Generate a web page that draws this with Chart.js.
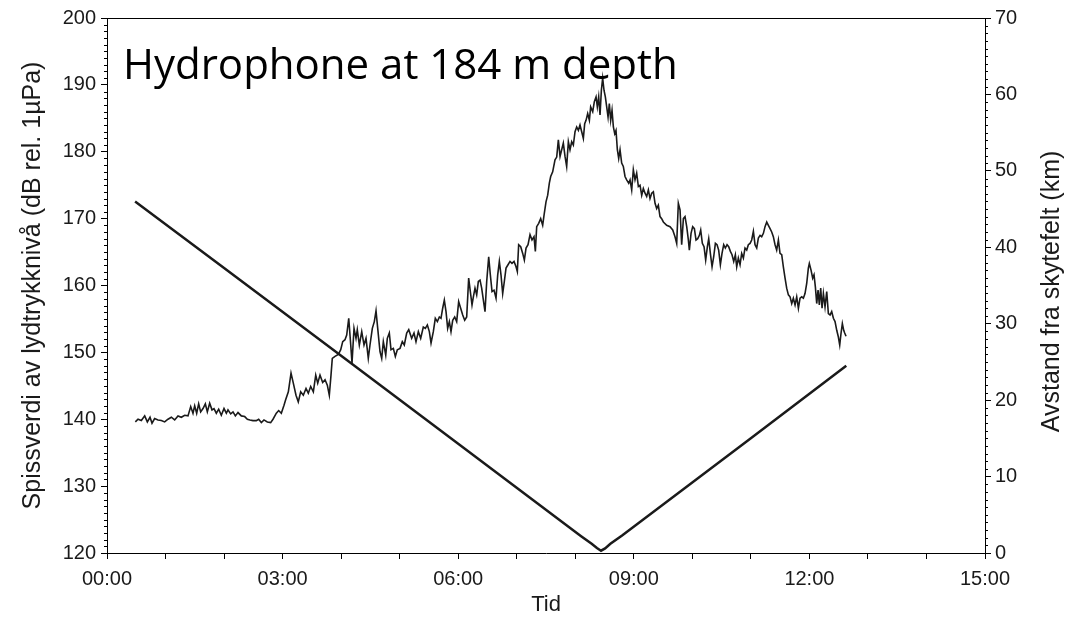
<!DOCTYPE html>
<html>
<head>
<meta charset="utf-8">
<script src="https://cdn.jsdelivr.net/npm/chart.js@4.4.1/dist/chart.umd.min.js"></script>
<style>
  html, body { margin: 0; padding: 0; background: #ffffff; }
  canvas { display: block; }
</style>
</head>
<body>
<canvas id="chart" width="1067" height="619"></canvas>
<script>
// Peak sound pressure level at the hydrophone (time in hours, level in dB re 1 µPa)
const levelTime = [
  0.484, 0.530, 0.587, 0.644, 0.689, 0.735, 0.769, 0.814, 0.871, 0.928,
  0.985, 1.042, 1.099, 1.156, 1.213, 1.270, 1.327, 1.384, 1.430, 1.469,
  1.498, 1.532, 1.566, 1.600, 1.640, 1.680, 1.714, 1.754, 1.794, 1.828,
  1.868, 1.908, 1.953, 1.999, 2.039, 2.067, 2.113, 2.153, 2.193, 2.238,
  2.295, 2.352, 2.398, 2.443, 2.494, 2.551, 2.591, 2.637, 2.682, 2.739,
  2.796, 2.836, 2.893, 2.933, 2.978, 3.024, 3.052,
  3.098, 3.144, 3.183, 3.229, 3.268, 3.309, 3.354, 3.400, 3.439, 3.480,
  3.525, 3.566, 3.600, 3.639, 3.685, 3.725, 3.764, 3.798, 3.827, 3.849,
  3.895, 3.952, 3.993, 4.027, 4.066, 4.095, 4.130, 4.164, 4.186, 4.220,
  4.254, 4.276, 4.311, 4.352, 4.391, 4.425, 4.464, 4.493, 4.533, 4.567,
  4.596, 4.625, 4.664, 4.693, 4.721, 4.762, 4.789, 4.823, 4.852, 4.892,
  4.926, 4.960, 5.006, 5.045, 5.079, 5.120, 5.155,
  5.205, 5.245, 5.279, 5.319, 5.359, 5.404, 5.439, 5.473, 5.507, 5.536,
  5.575, 5.609, 5.644, 5.678, 5.706, 5.735, 5.763, 5.792, 5.820, 5.849,
  5.877, 5.906, 5.940, 5.974, 6.008, 6.042, 6.077, 6.111, 6.145, 6.179,
  6.207, 6.236, 6.259, 6.287, 6.316, 6.344, 6.373, 6.401, 6.430, 6.458,
  6.487, 6.521, 6.549, 6.578, 6.612, 6.646, 6.675, 6.703, 6.731, 6.760,
  6.788, 6.817, 6.851, 6.885, 6.919, 6.954, 6.988, 7.010, 7.033, 7.068,
  7.102, 7.130, 7.159, 7.193, 7.227, 7.261, 7.295, 7.318, 7.341, 7.375,
  7.409, 7.443, 7.466, 7.500, 7.529, 7.557, 7.580, 7.614, 7.654, 7.683,
  7.711, 7.740, 7.768, 7.796, 7.825, 7.853, 7.882, 7.910, 7.939, 7.967,
  7.996, 8.024, 8.053, 8.081, 8.110, 8.138, 8.161, 8.184, 8.212, 8.241,
  8.263, 8.298, 8.326, 8.355, 8.377, 8.400, 8.423, 8.446, 8.468, 8.491,
  8.514, 8.537, 8.560, 8.582, 8.605, 8.628, 8.651, 8.674, 8.696, 8.719,
  8.742, 8.765, 8.793, 8.821, 8.850, 8.878, 8.913, 8.936, 8.964, 8.992,
  9.021, 9.049, 9.078, 9.106, 9.135, 9.163, 9.192, 9.220, 9.249, 9.277,
  9.306, 9.334, 9.363, 9.391, 9.419, 9.448, 9.476, 9.505, 9.562,
  9.619, 9.665, 9.704, 9.733, 9.761, 9.790, 9.818, 9.847, 9.875, 9.904,
  9.932, 9.949, 9.978, 10.006, 10.035, 10.063, 10.092, 10.120, 10.143, 10.171,
  10.200, 10.228, 10.257, 10.280, 10.308, 10.337, 10.365, 10.394, 10.422, 10.450,
  10.479, 10.507, 10.536, 10.564, 10.593, 10.621, 10.650, 10.678, 10.707, 10.735,
  10.758, 10.786, 10.815, 10.843, 10.872, 10.900, 10.929, 10.957, 10.986, 11.014,
  11.043, 11.071, 11.100, 11.128, 11.157, 11.185, 11.214, 11.242, 11.271, 11.299,
  11.328, 11.356, 11.384, 11.413, 11.441, 11.470, 11.498, 11.527, 11.555, 11.584,
  11.612, 11.641, 11.669, 11.698, 11.726, 11.755, 11.783, 11.812, 11.840, 11.869,
  11.897, 11.925, 11.954, 11.982, 11.999, 12.028, 12.056, 12.079, 12.102, 12.125,
  12.148, 12.170, 12.193, 12.216, 12.239, 12.267, 12.296, 12.324, 12.353, 12.381,
  12.410, 12.438, 12.467, 12.495, 12.518, 12.541, 12.563, 12.586, 12.603, 12.626
];
const levelDb = [
  139.6, 140.0, 139.8, 140.5, 139.6, 140.3, 139.4, 140.1, 139.9, 139.8,
  139.6, 140.0, 140.3, 139.9, 140.5, 140.3, 140.6, 140.5, 141.9, 140.9,
  142.0, 140.9, 142.3, 141.1, 141.6, 142.3, 141.1, 142.4, 141.4, 141.6,
  140.9, 141.5, 140.6, 141.6, 140.9, 141.4, 140.8, 141.1, 140.5, 141.0,
  140.5, 140.4, 140.0, 139.9, 139.8, 139.8, 140.0, 139.5, 139.9, 139.6,
  139.5, 140.0, 140.9, 141.3, 140.9, 142.1, 142.9,
  144.1, 146.9, 145.4, 143.6, 142.6, 144.1, 143.6, 144.6, 143.9, 144.9,
  144.1, 146.6, 145.4, 146.6, 145.5, 145.9, 145.1, 143.6, 146.6, 149.1,
  149.4, 149.7, 150.4, 151.6, 151.9, 152.6, 155.1, 151.1, 148.4, 153.6,
  152.1, 153.4, 151.1, 153.1, 151.1, 152.1, 149.1, 151.1, 153.6, 154.6,
  156.2, 153.6, 150.1, 149.1, 151.6, 149.6, 152.1, 152.9, 150.4, 150.6,
  149.4, 150.4, 150.6, 151.6, 151.1, 152.9, 153.4,
  152.1, 152.9, 151.6, 153.1, 152.1, 153.8, 153.6, 154.1, 153.1, 151.4,
  153.1, 155.1, 154.6, 155.3, 155.1, 156.6, 157.8, 156.1, 153.6, 154.6,
  153.1, 154.8, 155.3, 154.6, 157.6, 156.6, 155.6, 154.8, 155.3, 161.1,
  159.1, 157.1, 158.3, 159.6, 158.6, 160.6, 160.8, 159.6, 157.8, 156.1,
  160.6, 164.3, 161.6, 159.1, 159.3, 158.1, 161.6, 163.6, 161.6, 158.8,
  160.6, 162.6, 163.1, 163.6, 163.3, 163.6, 162.8, 162.1, 166.1, 165.8,
  164.8, 163.8, 165.6, 166.1, 167.6, 166.8, 167.3, 165.1, 168.8, 169.3,
  170.0, 169.0, 170.5, 172.5, 173.5, 175.3, 176.3, 177.0, 178.8, 179.2,
  181.8, 179.3, 180.3, 181.3, 179.3, 177.8, 181.5, 180.3, 181.5, 181.0,
  183.0, 183.7, 183.2, 184.0, 183.0, 182.0, 184.2, 184.7, 185.7, 184.7,
  186.7, 186.0, 187.5, 188.2, 186.7, 188.2, 185.5, 189.2, 191.0, 189.2,
  188.2, 186.7, 185.2, 187.2, 184.7, 186.2, 183.7, 182.7, 183.2, 180.3,
  179.0, 180.3, 178.3, 177.8, 176.3, 175.8, 175.3, 175.8, 174.3, 177.3,
  175.8, 176.8, 174.8, 175.0, 173.5, 174.5, 173.8, 173.3, 174.3, 173.0,
  173.8, 174.0, 172.3, 171.5, 172.0, 170.3, 170.0, 169.5, 169.0,
  168.8, 168.3, 167.3, 166.3, 172.3, 171.3, 166.1, 170.0, 170.3, 168.8,
  166.8, 165.3, 167.8, 168.8, 168.5, 166.8, 167.0, 167.5, 168.3, 166.3,
  165.8, 163.8, 165.8, 167.0, 164.8, 162.8, 164.3, 166.3, 166.1, 165.3,
  163.1, 164.8, 166.1, 165.6, 166.1, 165.8, 165.1, 164.6, 163.6, 164.6,
  162.8, 164.1, 163.1, 164.8, 164.1, 165.6, 165.3, 166.1, 166.3, 166.8,
  168.1, 166.1, 165.6, 167.1, 167.5, 167.3, 167.8, 168.8, 169.5, 169.0,
  168.5, 168.0, 167.3, 166.1, 165.3, 166.8, 164.8, 164.6, 162.8, 161.1,
  159.6, 158.6, 158.3, 157.3, 158.1, 157.1, 158.3, 156.6, 158.1, 158.3,
  158.1, 158.8, 160.3, 162.6, 163.3, 162.3, 161.1, 161.6, 159.8, 157.3,
  159.3, 157.1, 159.6, 156.6, 158.8, 156.8, 159.1, 155.8, 155.6, 156.1,
  155.1, 154.6, 153.3, 152.3, 151.1, 152.9, 154.3, 153.3, 152.9, 152.4
];

// Distance from the firing range (time in hours, distance in km)
const distTime = [0.48, 2.0, 4.0, 6.0, 8.1, 8.28, 8.37, 8.44, 8.51, 8.6, 8.8, 11.0, 12.63];
const distKm   = [46.0, 37.3, 25.8, 14.3, 2.2, 1.2, 0.65, 0.3, 0.6, 1.2, 2.3, 15.0, 24.5];

// Axis ticks
const timeTickHours  = [0, 3, 6, 9, 12, 15];
const timeTickLabels = ['00:00', '03:00', '06:00', '09:00', '12:00', '15:00'];

const tickFont  = { family: '"Liberation Sans", Arial, sans-serif', size: 20 };
const titleFont = { family: '"Liberation Sans", Arial, sans-serif', size: 25 };
const ink = '#1a1a1a';

// Frame, minor ticks, right-hand axis title and the heading
const decorations = {
  id: 'decorations',
  afterDraw(chart) {
    const { ctx, chartArea: a, scales } = chart;
    ctx.save();
    ctx.strokeStyle = '#000';
    ctx.lineWidth = 1;
    ctx.beginPath();
    const yl = scales.y, yr = scales.y1;
    for (let v = yl.min; v <= yl.max; v++) {
      if (v % 10 === 0) continue;
      const py = Math.round(yl.getPixelForValue(v)) + 0.5;
      ctx.moveTo(a.left, py); ctx.lineTo(a.left - 3, py);
    }
    for (let v = yr.min; v <= yr.max; v++) {
      if (v % 10 === 0) continue;
      const py = Math.round(yr.getPixelForValue(v)) + 0.5;
      ctx.moveTo(a.right, py); ctx.lineTo(a.right + 3, py);
    }
    ctx.moveTo(a.left, a.top + 0.5); ctx.lineTo(a.right, a.top + 0.5);
    ctx.stroke();

    ctx.fillStyle = ink;
    ctx.font = `${titleFont.size}px ${titleFont.family}`;
    ctx.textAlign = 'center';
    ctx.textBaseline = 'middle';
    ctx.translate(1052, (a.top + a.bottom) / 2 + 6);
    ctx.rotate(-Math.PI / 2);
    ctx.fillText('Avstand fra skytefelt (km)', 0, 0);
    ctx.restore();

    ctx.save();
    ctx.fillStyle = '#000';
    ctx.font = '42px "Open Sans", "Noto Sans", sans-serif';
    ctx.textAlign = 'left';
    ctx.textBaseline = 'alphabetic';
    ctx.fillText('Hydrophone at 184 m depth', a.left + 16, 79);
    ctx.restore();
  }
};

new Chart(document.getElementById('chart'), {
  type: 'line',
  data: {
    datasets: [
      {
        data: levelTime.map((t, i) => ({ x: t, y: levelDb[i] })),
        yAxisID: 'y',
        borderColor: ink,
        borderWidth: 1.6,
        pointRadius: 0,
        tension: 0
      },
      {
        data: distTime.map((t, i) => ({ x: t, y: distKm[i] })),
        yAxisID: 'y1',
        borderColor: ink,
        borderWidth: 2.5,
        pointRadius: 0,
        tension: 0
      }
    ]
  },
  options: {
    responsive: false,
    animation: false,
    layout: { padding: { top: 18, left: 0, right: 0, bottom: 0 } },
    plugins: { legend: { display: false }, tooltip: { enabled: false }, title: { display: false } },
    scales: {
      x: {
        type: 'linear',
        min: 0, max: 15,
        afterFit: s => { s.height = 66; },
        border: { display: true, color: '#000', width: 1 },
        grid: { drawOnChartArea: false, drawTicks: true, tickLength: 6, color: '#000' },
        ticks: {
          stepSize: 1, autoSkip: false, maxRotation: 0, padding: 8,
          color: ink, font: tickFont,
          callback: v => { const i = timeTickHours.indexOf(v); return i >= 0 ? timeTickLabels[i] : ''; }
        },
        title: { display: true, text: 'Tid', color: ink, font: { family: titleFont.family, size: 22 }, padding: { top: 0, bottom: 1 } }
      },
      y: {
        position: 'left',
        min: 120, max: 200,
        afterFit: s => { s.width = 107; },
        border: { display: true, color: '#000', width: 1 },
        grid: { drawOnChartArea: false, drawTicks: true, tickLength: 6, color: '#000' },
        ticks: { stepSize: 10, padding: 5, color: ink, font: tickFont },
        title: { display: true, text: 'Spissverdi av lydtrykknivå (dB rel. 1µPa)', color: ink, font: titleFont, padding: { top: 18, bottom: 0 } }
      },
      y1: {
        position: 'right',
        min: 0, max: 70,
        afterFit: s => { s.width = 82; },
        border: { display: true, color: '#000', width: 1 },
        grid: { drawOnChartArea: false, drawTicks: true, tickLength: 6, color: '#000' },
        ticks: { stepSize: 10, padding: 4, color: ink, font: tickFont }
      }
    }
  },
  plugins: [decorations]
});
</script>
</body>
</html>
